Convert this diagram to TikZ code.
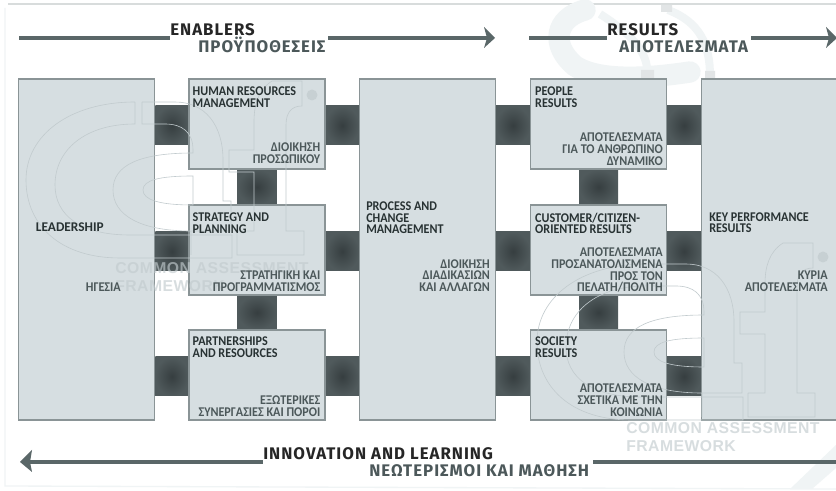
\documentclass[tikz,border=0pt]{standalone}
\usepackage{fontspec}
\usetikzlibrary{calc}
\newfontfamily\labf[FakeStretch=0.91]{Carlito}
\newfontfamily\labwide{Carlito}
\newfontfamily\headf[LetterSpace=6]{Fira Sans}
\newfontfamily\markf[LetterSpace=3]{Liberation Sans}
\definecolor{boxfill}{HTML}{D6DEE1}
\definecolor{boxedge}{HTML}{8A9496}
\definecolor{barout}{HTML}{505A5C}
\definecolor{barin}{HTML}{363E40}
\definecolor{rulec}{HTML}{5A6768}
\definecolor{engc}{HTML}{283233}
\definecolor{grc}{HTML}{4C585A}
\definecolor{logoc}{HTML}{C2CBCE}
\definecolor{swirl}{HTML}{F0F4F5}
\tikzset{
  boxn/.style={draw=boxedge,fill=boxfill,line width=0.8pt,inner sep=0pt,minimum width=102pt,minimum height=67.5pt},
  talln/.style={boxn,minimum height=255.75pt},
  entxt/.style={font=\labf\bfseries\fontsize{10}{8.7}\selectfont,text=engc,align=left,inner sep=0pt,anchor=north west},
  grtxt/.style={font=\labf\bfseries\fontsize{10}{8.7}\selectfont,text=grc,align=right,inner sep=0pt,anchor=south east},
  headen/.style={font=\headf\bfseries\fontsize{12.6}{13}\selectfont,text=black!85,inner sep=0pt,anchor=base west},
  headgr/.style={font=\headf\bfseries\fontsize{12.6}{13}\selectfont,text=grc,inner sep=0pt,anchor=base west},
  barline/.style={line width=29.25pt,draw=barout},
  rule/.style={line width=3.6pt,draw=rulec},
  logoline/.style={draw=logoc,line width=0.45pt},
  marktext/.style={font=\markf\bfseries\fontsize{11.8}{14}\selectfont,text=logoc,opacity=.65,inner sep=0pt,anchor=base west,align=left}
}
\newcommand\hconn[3]{%
  \path ($(#3.center -| #1.east)+(0,1.5)$) coordinate (pp) ($(#3.center -| #2.west)+(0,1.5)$) coordinate (qq);
  \draw[barline] (pp)--(qq);
  \shade[inner color=barin,outer color=barout] ($(pp)+(0,-19.5)$) rectangle ($(qq)+(0,19.5)$);}
\newcommand\vconn[2]{%
  \draw[barline] (#1.south) -- (#2.north);
  \shade[inner color=barin,outer color=barout] ($(#1.south)+(-19.5,0)$) rectangle ($(#2.north)+(19.5,0)$);}
\newcommand\logomark[2]{%
  \begin{scope}[shift={(#1,#2)}]
  \draw[logoline] (135,102)--(135,124) .. controls (85,124) and (55,150) .. (55,185) .. controls (55,215) and (80,235) .. (130,235) -- (232,235) -- (232,258) -- (120,258) .. controls (60,258) and (26,225) .. (26,180) .. controls (26,135) and (70,102) .. (135,102);
  \draw[logoline] (142,102)--(142,124) -- (165,124) .. controls (182,124) and (193,132) .. (193,150) -- (193,153) .. controls (140,153) and (113,165) .. (113,190) .. controls (113,215) and (140,231) .. (191,231) -- (191,255);
  \draw[logoline] (142,102)--(175,102) .. controls (205,102) and (223,125) .. (223,160) -- (223,201) -- (231,201) -- (231,231) -- (191,231);
  \draw[logoline] (193,176) .. controls (160,176) and (143,180) .. (143,190) .. controls (143,200) and (160,205) .. (193,205) -- cycle;
  \draw[logoline] (237,231)--(237,255)--(304,255)--(304,231)--(286,231)--(286,125) .. controls (286,112) and (292,106) .. (302,106) -- (302,81) -- (272,81) .. controls (258,90) and (254,105) .. (254,122) -- (254,150) -- (229,150) -- (229,172) -- (254,172) -- (254,231) -- (237,231);
  \fill[logoc,opacity=.7] (312,95) circle (5.5);
  \end{scope}}
\begin{document}
\begin{tikzpicture}[x=0.75pt,y=-0.75pt]
\useasboundingbox (0,0) rectangle (836,491);
\clip (0,0) rectangle (836,491);
\fill[white] (0,0) rectangle (836,491);
% page frame
\draw[draw=black!10!swirl,line width=1.2pt] (8,4)--(836,4);
\draw[draw=swirl,line width=1pt] (5,8)--(5,486)--(836,489);
% background swirl
\draw[swirl,line width=16pt,line cap=round] (585,10) .. controls (555,18) and (550,45) .. (575,66) .. controls (600,82) and (650,78) .. (690,72);
\draw[swirl,line width=6pt] (668,10) .. controls (700,22) and (710,45) .. (710,76);
\draw[swirl,line width=6pt] (600,14) .. controls (625,30) and (650,50) .. (647,76);
\fill[black!6!swirl] (641,70) rectangle (654,78) (705,71) rectangle (715,78) (661,5) rectangle (672,12);
\fill[swirl] (790,489) -- (836,445) -- (836,468) -- (812,489) -- cycle;
% names of the boxes
\path
  (86.75,249.5) node[talln,draw=none,fill=none] (lead) {}
  (257,124) node[boxn,draw=none,fill=none] (hr) {}
  (257,250) node[boxn,draw=none,fill=none] (strat) {}
  (257,375) node[boxn,draw=none,fill=none] (part) {}
  (427.5,249.5) node[talln,draw=none,fill=none] (proc) {}
  (598.5,124) node[boxn,draw=none,fill=none] (people) {}
  (598.5,250) node[boxn,draw=none,fill=none] (cust) {}
  (598.5,375) node[boxn,draw=none,fill=none] (soc) {}
  (769.5,249.5) node[talln,draw=none,fill=none] (key) {};
\hconn{lead}{hr}{hr}
\hconn{lead}{strat}{strat}
\hconn{lead}{part}{part}
\hconn{hr}{proc}{hr}
\hconn{strat}{proc}{strat}
\hconn{part}{proc}{part}
\hconn{proc}{people}{people}
\hconn{proc}{cust}{cust}
\hconn{proc}{soc}{soc}
\hconn{people}{key}{people}
\hconn{cust}{key}{cust}
\hconn{soc}{key}{soc}
\vconn{hr}{strat}
\vconn{strat}{part}
\vconn{people}{cust}
\vconn{cust}{soc}
% visible boxes
\foreach \n in {lead,proc,key}{\node[talln] at (\n.center) {};}
\foreach \n in {hr,strat,part,people,cust,soc}{\node[boxn] at (\n.center) {};}
% watermarks
\logomark{0}{0}
\logomark{511}{162}
\node[marktext] (ml1) at (115,274) {COMMON ASSESSMENT};
\node[marktext] (ml2) at (115,292) {FRAMEWORK};
\node[marktext] (mr1) at (626,434) {COMMON ASSESSMENT};
\node[marktext] (mr2) at (626,452) {FRAMEWORK};
% box labels
\node[entxt,font=\labwide\bfseries\fontsize{10}{8.7}\selectfont] (t1) at ($(lead.north west)+(17.5,144)$) {LEADERSHIP};
\node[grtxt] (g1) at (121,291.5) {ΗΓΕΣΙΑ};
\node[entxt] (t2) at ($(hr.north west)+(4,8)$) {HUMAN RESOURCES\\MANAGEMENT};
\node[grtxt] (g2) at ($(hr.south east)+(-5,-6)$) {ΔΙΟΙΚΗΣΗ\\ΠΡΟΣΩΠΙΚΟΥ};
\node[entxt] (t3) at ($(strat.north west)+(4,8)$) {STRATEGY AND\\PLANNING};
\node[grtxt] (g3) at ($(strat.south east)+(-5,-4)$) {ΣΤΡΑΤΗΓΙΚΗ ΚΑΙ\\ΠΡΟΓΡΑΜΜΑΤΙΣΜΟΣ};
\node[entxt] (t4) at ($(part.north west)+(4,7)$) {PARTNERSHIPS\\AND RESOURCES};
\node[grtxt] (g4) at ($(part.south east)+(-5,-4)$) {ΕΞΩΤΕΡΙΚΕΣ\\ΣΥΝΕΡΓΑΣΙΕΣ ΚΑΙ ΠΟΡΟΙ};
\node[entxt] (t5) at (366,201.5) {PROCESS AND\\CHANGE\\MANAGEMENT};
\node[grtxt] (g5) at (490,291.5) {ΔΙΟΙΚΗΣΗ\\ΔΙΑΔΙΚΑΣΙΩΝ\\ΚΑΙ ΑΛΛΑΓΩΝ};
\node[entxt] (t6) at ($(people.north west)+(5,8)$) {PEOPLE\\RESULTS};
\node[grtxt] (g6) at ($(people.south east)+(-4,-4)$) {ΑΠΟΤΕΛΕΣΜΑΤΑ\\ΓΙΑ ΤΟ ΑΝΘΡΩΠΙΝΟ\\ΔΥΝΑΜΙΚΟ};
\node[entxt] (t7) at ($(cust.north west)+(5,8)$) {CUSTOMER/CITIZEN-\\ORIENTED RESULTS};
\node[grtxt] (g7) at ($(cust.south east)+(-4,-3)$) {ΑΠΟΤΕΛΕΣΜΑΤΑ\\ΠΡΟΣΑΝΑΤΟΛΙΣΜΕΝΑ\\ΠΡΟΣ ΤΟΝ\\ΠΕΛΑΤΗ/ΠΟΛΙΤΗ};
\node[entxt] (t8) at ($(soc.north west)+(5,7)$) {SOCIETY\\RESULTS};
\node[grtxt] (g8) at ($(soc.south east)+(-4,-4)$) {ΑΠΟΤΕΛΕΣΜΑΤΑ\\ΣΧΕΤΙΚΑ ΜΕ ΤΗΝ\\ΚΟΙΝΩΝΙΑ};
\node[entxt] (t9) at (709,212) {KEY PERFORMANCE\\RESULTS};
\node[grtxt] (g9) at (828,291.5) {ΚΥΡΙΑ\\ΑΠΟΤΕΛΕΣΜΑΤΑ};
% headings and rules
\node[headen] (he) at (170,36) {ENABLERS};
\node[headgr] (hg) at (198,53) {ΠΡΟΫΠΟΘΕΣΕΙΣ};
\node[headen] (hr2) at (607,36) {RESULTS};
\node[headgr] (ha) at (619,53) {ΑΠΟΤΕΛΕΣΜΑΤΑ};
\node[headen] (hi) at (263,460) {INNOVATION AND LEARNING};
\node[headgr] (hn) at (369,477) {ΝΕΩΤΕΡΙΣΜΟΙ ΚΑΙ ΜΑΘΗΣΗ};
\coordinate (a1) at (19,38);
\coordinate (a2) at (328,38);
\coordinate (a3) at (487,38);
\coordinate (b1) at (529,38);
\coordinate (b2) at (751,38);
\coordinate (b3) at (829,38);
\coordinate (c1) at (30,462);
\coordinate (c2) at (593,462);
\coordinate (c3) at (836,462);
\draw[rule] (a1) -- (he.west |- a1);
\draw[rule] (a2) -- (a3);
\fill[rulec] ($(a3)+(-3,-11)$) -- ($(a3)+(8,0)$) -- ($(a3)+(-3,10)$) -- ($(a3)+(0,0)$) -- cycle;
\draw[rule] (b1) -- (hr2.west |- b1);
\draw[rule] (b2) -- (b3);
\fill[rulec] ($(b3)+(-3,-11)$) -- ($(b3)+(8,0)$) -- ($(b3)+(-3,10)$) -- ($(b3)+(0,0)$) -- cycle;
\draw[rule] (c1) -- (hi.west |- c1);
\fill[rulec] ($(c1)+(2,-12)$) -- ($(c1)+(-10,0)$) -- ($(c1)+(2,10)$) -- ($(c1)+(0,0)$) -- cycle;
\draw[rule] (c2) -- (c3);
\end{tikzpicture}
\end{document}
